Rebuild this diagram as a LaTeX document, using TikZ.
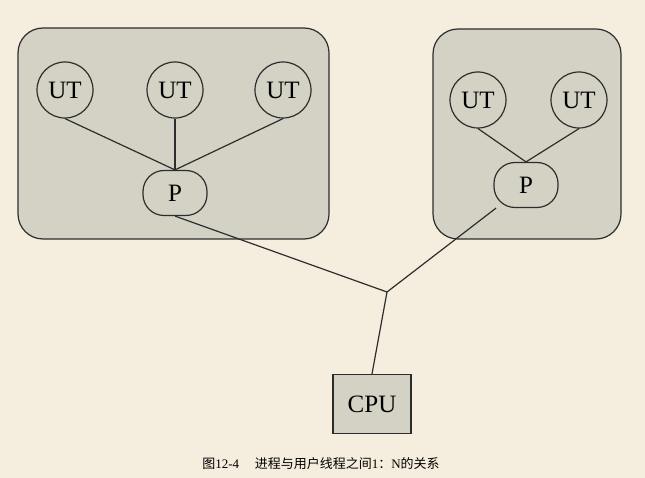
\documentclass[tikz,border=0pt]{standalone}
\usepackage{fontspec}
\setmainfont{Liberation Serif}
\newfontfamily\cjk{Noto Sans CJK SC}
\definecolor{bgcol}{RGB}{245,238,222}
\definecolor{boxcol}{RGB}{211,210,197}
\definecolor{linecol}{RGB}{45,45,45}
\begin{document}
\begin{tikzpicture}[x=1pt,y=-1pt,
  group/.style={draw=linecol,fill=boxcol,rounded corners=25pt,line width=1.2pt},
  ut/.style={circle,draw=linecol,fill=boxcol,line width=1.2pt,minimum size=56pt,inner sep=0pt,font=\fontsize{25}{25}\selectfont},
  proc/.style={rectangle,rounded corners=21pt,draw=linecol,fill=boxcol,line width=1.2pt,minimum width=64pt,minimum height=45pt,inner sep=0pt,font=\fontsize{25}{25}\selectfont},
  cpu/.style={rectangle,draw=linecol,fill=boxcol,line width=1.2pt,minimum width=78pt,minimum height=59pt,inner sep=0pt,font=\fontsize{25}{25}\selectfont},
  conn/.style={draw=linecol,line width=1.2pt}]
\fill[bgcol] (0,0) rectangle (645,478);
\useasboundingbox (0,0) rectangle (645,478);
% group boxes
\draw[group] (18,28) rectangle (329,239);
\draw[group] (433,29) rectangle (621,239);
% left group
\node[ut] (ut1) at (65,90) {UT};
\node[ut] (ut2) at (175,90) {UT};
\node[ut] (ut3) at (283,90) {UT};
\node[proc] (lp) at (175,193) {P};
% right group
\node[ut] (ut4) at (478,100) {UT};
\node[ut] (ut5) at (579,100) {UT};
\node[proc] (rp) at (526,185) {P};
% cpu
\node[cpu] (cpu) at (372,404) {CPU};
\coordinate (j) at (387,292);
% connectors
\draw[conn] (ut1.south) -- (lp.north);
\draw[conn] (ut2.south) -- (lp.north);
\draw[conn] (ut3.south) -- (lp.north);
\draw[conn] (ut4.south) -- (rp.north);
\draw[conn] (ut5.south) -- (rp.north);
\draw[conn] (lp.south) -- (j);
\draw[conn] (rp) -- (j);
\draw[conn] (cpu.north) -- (j);
% caption
\node[inner sep=0pt,font=\fontsize{13}{13}\selectfont] (cap) at (321,464) {{\cjk 图}12-4\hspace{1.2em}{\cjk 进程与用户线程之间}1{\cjk ：}N{\cjk 的关系}};
\end{tikzpicture}
\end{document}
